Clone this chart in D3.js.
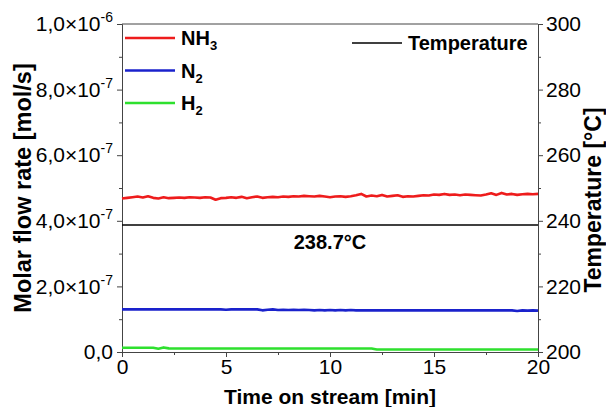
<!DOCTYPE html>
<html>
<head>
<meta charset="utf-8">
<script src="https://cdn.jsdelivr.net/npm/d3@7"></script>
<style>
  body { margin: 0; background: #fff; }
  svg text { font-family: "Liberation Sans", Arial, sans-serif; }
</style>
</head>
<body>
<svg id="chart" width="606" height="407"></svg>
<script>
// time on stream [min]
const time = [0, 0.25, 0.5, 0.75, 1, 1.25, 1.5, 1.75, 2, 2.25, 2.5, 2.75, 3, 3.25, 3.5, 3.75,
  4, 4.25, 4.5, 4.75, 5, 5.25, 5.5, 5.75, 6, 6.25, 6.5, 6.75, 7, 7.25, 7.5, 7.75,
  8, 8.25, 8.5, 8.75, 9, 9.25, 9.5, 9.75, 10, 10.25, 10.5, 10.75, 11, 11.25, 11.5, 11.75,
  12, 12.25, 12.5, 12.75, 13, 13.25, 13.5, 13.75, 14, 14.25, 14.5, 14.75, 15, 15.25, 15.5, 15.75,
  16, 16.25, 16.5, 16.75, 17, 17.25, 17.5, 17.75, 18, 18.25, 18.5, 18.75, 19, 19.25, 19.5, 19.75, 20];

// molar flow rates in units of 1e-7 mol/s
const nh3 = [4.68, 4.70, 4.72, 4.74, 4.71, 4.75, 4.70, 4.68, 4.72, 4.69, 4.70, 4.71, 4.70, 4.72, 4.71, 4.70,
  4.72, 4.71, 4.64, 4.69, 4.70, 4.72, 4.70, 4.73, 4.69, 4.72, 4.74, 4.70, 4.72, 4.73, 4.72, 4.74,
  4.73, 4.75, 4.74, 4.76, 4.75, 4.74, 4.76, 4.74, 4.72, 4.74, 4.75, 4.73, 4.75, 4.78, 4.82, 4.74,
  4.77, 4.75, 4.79, 4.74, 4.76, 4.78, 4.73, 4.75, 4.74, 4.76, 4.78, 4.77, 4.80, 4.79, 4.82, 4.79,
  4.80, 4.78, 4.80, 4.79, 4.78, 4.77, 4.80, 4.84, 4.79, 4.85, 4.80, 4.82, 4.79, 4.81, 4.82, 4.81, 4.82];
const n2 = [1.30, 1.30, 1.30, 1.30, 1.30, 1.30, 1.30, 1.30, 1.30, 1.30, 1.30, 1.30, 1.30, 1.30, 1.30, 1.30,
  1.30, 1.30, 1.30, 1.30, 1.29, 1.30, 1.30, 1.30, 1.30, 1.30, 1.30, 1.27, 1.29, 1.30, 1.28, 1.29,
  1.28, 1.29, 1.28, 1.29, 1.28, 1.27, 1.28, 1.27, 1.28, 1.27, 1.28, 1.27, 1.28, 1.27, 1.27, 1.27,
  1.27, 1.27, 1.27, 1.27, 1.27, 1.27, 1.27, 1.27, 1.27, 1.27, 1.27, 1.27, 1.27, 1.27, 1.27, 1.27,
  1.27, 1.27, 1.27, 1.27, 1.27, 1.27, 1.27, 1.27, 1.27, 1.27, 1.27, 1.27, 1.25, 1.27, 1.26, 1.27, 1.26];
const h2 = [0.13, 0.13, 0.13, 0.13, 0.13, 0.13, 0.13, 0.10, 0.14, 0.11, 0.105, 0.105, 0.105, 0.105, 0.105, 0.105,
  0.105, 0.105, 0.105, 0.105, 0.105, 0.105, 0.105, 0.105, 0.105, 0.105, 0.105, 0.105, 0.105, 0.105, 0.105, 0.105,
  0.105, 0.105, 0.105, 0.105, 0.105, 0.105, 0.105, 0.105, 0.105, 0.105, 0.105, 0.105, 0.105, 0.105, 0.105, 0.105,
  0.105, 0.075, 0.075, 0.075, 0.075, 0.075, 0.075, 0.075, 0.075, 0.075, 0.075, 0.075, 0.075, 0.075, 0.075, 0.075,
  0.075, 0.075, 0.075, 0.075, 0.075, 0.075, 0.075, 0.075, 0.075, 0.075, 0.075, 0.075, 0.075, 0.075, 0.075, 0.075, 0.075];
// temperature [°C]
const tempTime = [0, 20];
const temperature = [238.7, 238.7];

const xTicks = [0, 5, 10, 15, 20];
const xMinor = [2.5, 7.5, 12.5, 17.5];
const yTicks = [0, 2, 4, 6, 8, 10]; // 1e-7
const yLabels = [["0,0", ""], ["2,0×10", "-7"], ["4,0×10", "-7"], ["6,0×10", "-7"], ["8,0×10", "-7"], ["1,0×10", "-6"]];
const yMinor = [1, 3, 5, 7, 9];
const tTicks = [200, 220, 240, 260, 280, 300];
const tMinor = [210, 230, 250, 270, 290];

const series = [
  { name: "NH", sub: "3", values: nh3, color: "#ee1c1c" },
  { name: "N", sub: "2", values: n2, color: "#1a22cc" },
  { name: "H", sub: "2", values: h2, color: "#2ee02e" }
];

const margin = { top: 24, right: 68, bottom: 55, left: 122 };
const width = 606, height = 407;
const svg = d3.select("#chart");
const axisColor = "#444";

const x = d3.scaleLinear().domain([0, 20]).range([margin.left, width - margin.right]);
const y = d3.scaleLinear().domain([0, 10]).range([height - margin.bottom, margin.top]);
const yT = d3.scaleLinear().domain([200, 300]).range([height - margin.bottom, margin.top]);

function styleAxis(g) {
  g.selectAll("path, line").attr("stroke", axisColor).attr("stroke-width", 1);
  g.selectAll("text").attr("font-size", 21).attr("fill", "#000")
    .attr("font-family", "'Liberation Sans', Arial, sans-serif");
}

// minor ticks
svg.append("g").attr("transform", `translate(0,${y(0)})`)
  .call(d3.axisBottom(x).tickValues(xMinor).tickSize(3).tickFormat("").tickSizeOuter(0))
  .call(styleAxis);
svg.append("g").attr("transform", `translate(${x(0)},0)`)
  .call(d3.axisLeft(y).tickValues(yMinor).tickSize(3).tickFormat("").tickSizeOuter(0))
  .call(styleAxis);
svg.append("g").attr("transform", `translate(${x(20)},0)`)
  .call(d3.axisRight(yT).tickValues(tMinor).tickSize(3).tickFormat("").tickSizeOuter(0))
  .call(styleAxis);

// major axes
svg.append("g").attr("transform", `translate(0,${y(0)})`)
  .call(d3.axisBottom(x).tickValues(xTicks).tickSize(5).tickPadding(2).tickSizeOuter(0))
  .call(styleAxis);

const yAxis = svg.append("g").attr("transform", `translate(${x(0)},0)`)
  .call(d3.axisLeft(y).tickValues(yTicks).tickSize(5).tickPadding(4).tickSizeOuter(0))
  .call(styleAxis);
yAxis.selectAll(".tick text").each(function (d, i) {
  const t = d3.select(this).text("");
  t.append("tspan").text(yLabels[i][0]);
  if (yLabels[i][1]) {
    t.append("tspan").attr("font-size", 14).attr("dy", -9).text(yLabels[i][1]);
  }
});

svg.append("g").attr("transform", `translate(${x(20)},0)`)
  .call(d3.axisRight(yT).tickValues(tTicks).tickSize(5).tickPadding(3).tickSizeOuter(0))
  .call(styleAxis);

// top frame line
svg.append("line")
  .attr("x1", x(0)).attr("x2", x(20)).attr("y1", y(10)).attr("y2", y(10))
  .attr("stroke", axisColor).attr("stroke-width", 1);

// temperature line
const tLine = d3.line().x((d, i) => x(tempTime[i])).y(d => yT(d));
svg.append("path").datum(temperature)
  .attr("d", tLine).attr("fill", "none").attr("stroke", "#000").attr("stroke-width", 1.6);

svg.append("text")
  .attr("x", x(10)).attr("y", yT(temperature[0]) + 24)
  .attr("text-anchor", "middle").attr("font-size", 20).attr("font-weight", "bold")
  .text(temperature[0] + "°C");

// flow rate lines
series.forEach(s => {
  const line = d3.line().x((d, i) => x(time[i])).y(d => y(d));
  svg.append("path").datum(s.values)
    .attr("d", line).attr("fill", "none")
    .attr("stroke", s.color).attr("stroke-width", 2.6)
    .attr("stroke-linejoin", "round");
});

// legend
series.forEach((s, i) => {
  const ly = 38 + i * 32.5;
  svg.append("line").attr("x1", 125).attr("x2", 175).attr("y1", ly).attr("y2", ly)
    .attr("stroke", s.color).attr("stroke-width", 2.6);
  const t = svg.append("text").attr("x", 181).attr("y", ly + 7)
    .attr("font-size", 20).attr("font-weight", "bold");
  t.append("tspan").text(s.name);
  t.append("tspan").attr("font-size", 13).attr("dy", 5).text(s.sub);
});
svg.append("line").attr("x1", 352).attr("x2", 402).attr("y1", 43).attr("y2", 43)
  .attr("stroke", "#000").attr("stroke-width", 1.6);
svg.append("text").attr("x", 408).attr("y", 50)
  .attr("font-size", 20).attr("font-weight", "bold").text("Temperature");

// axis titles
svg.append("text")
  .attr("x", x(10)).attr("y", 404)
  .attr("text-anchor", "middle").attr("font-size", 21).attr("font-weight", "bold")
  .text("Time on stream [min]");
svg.append("text")
  .attr("transform", `translate(31,188) rotate(-90)`)
  .attr("text-anchor", "middle").attr("font-size", 23.5).attr("font-weight", "bold")
  .text("Molar flow rate [mol/s]");
svg.append("text")
  .attr("transform", `translate(601,200) rotate(-90)`)
  .attr("text-anchor", "middle").attr("font-size", 23).attr("font-weight", "bold")
  .text("Temperature [°C]");
</script>
</body>
</html>
